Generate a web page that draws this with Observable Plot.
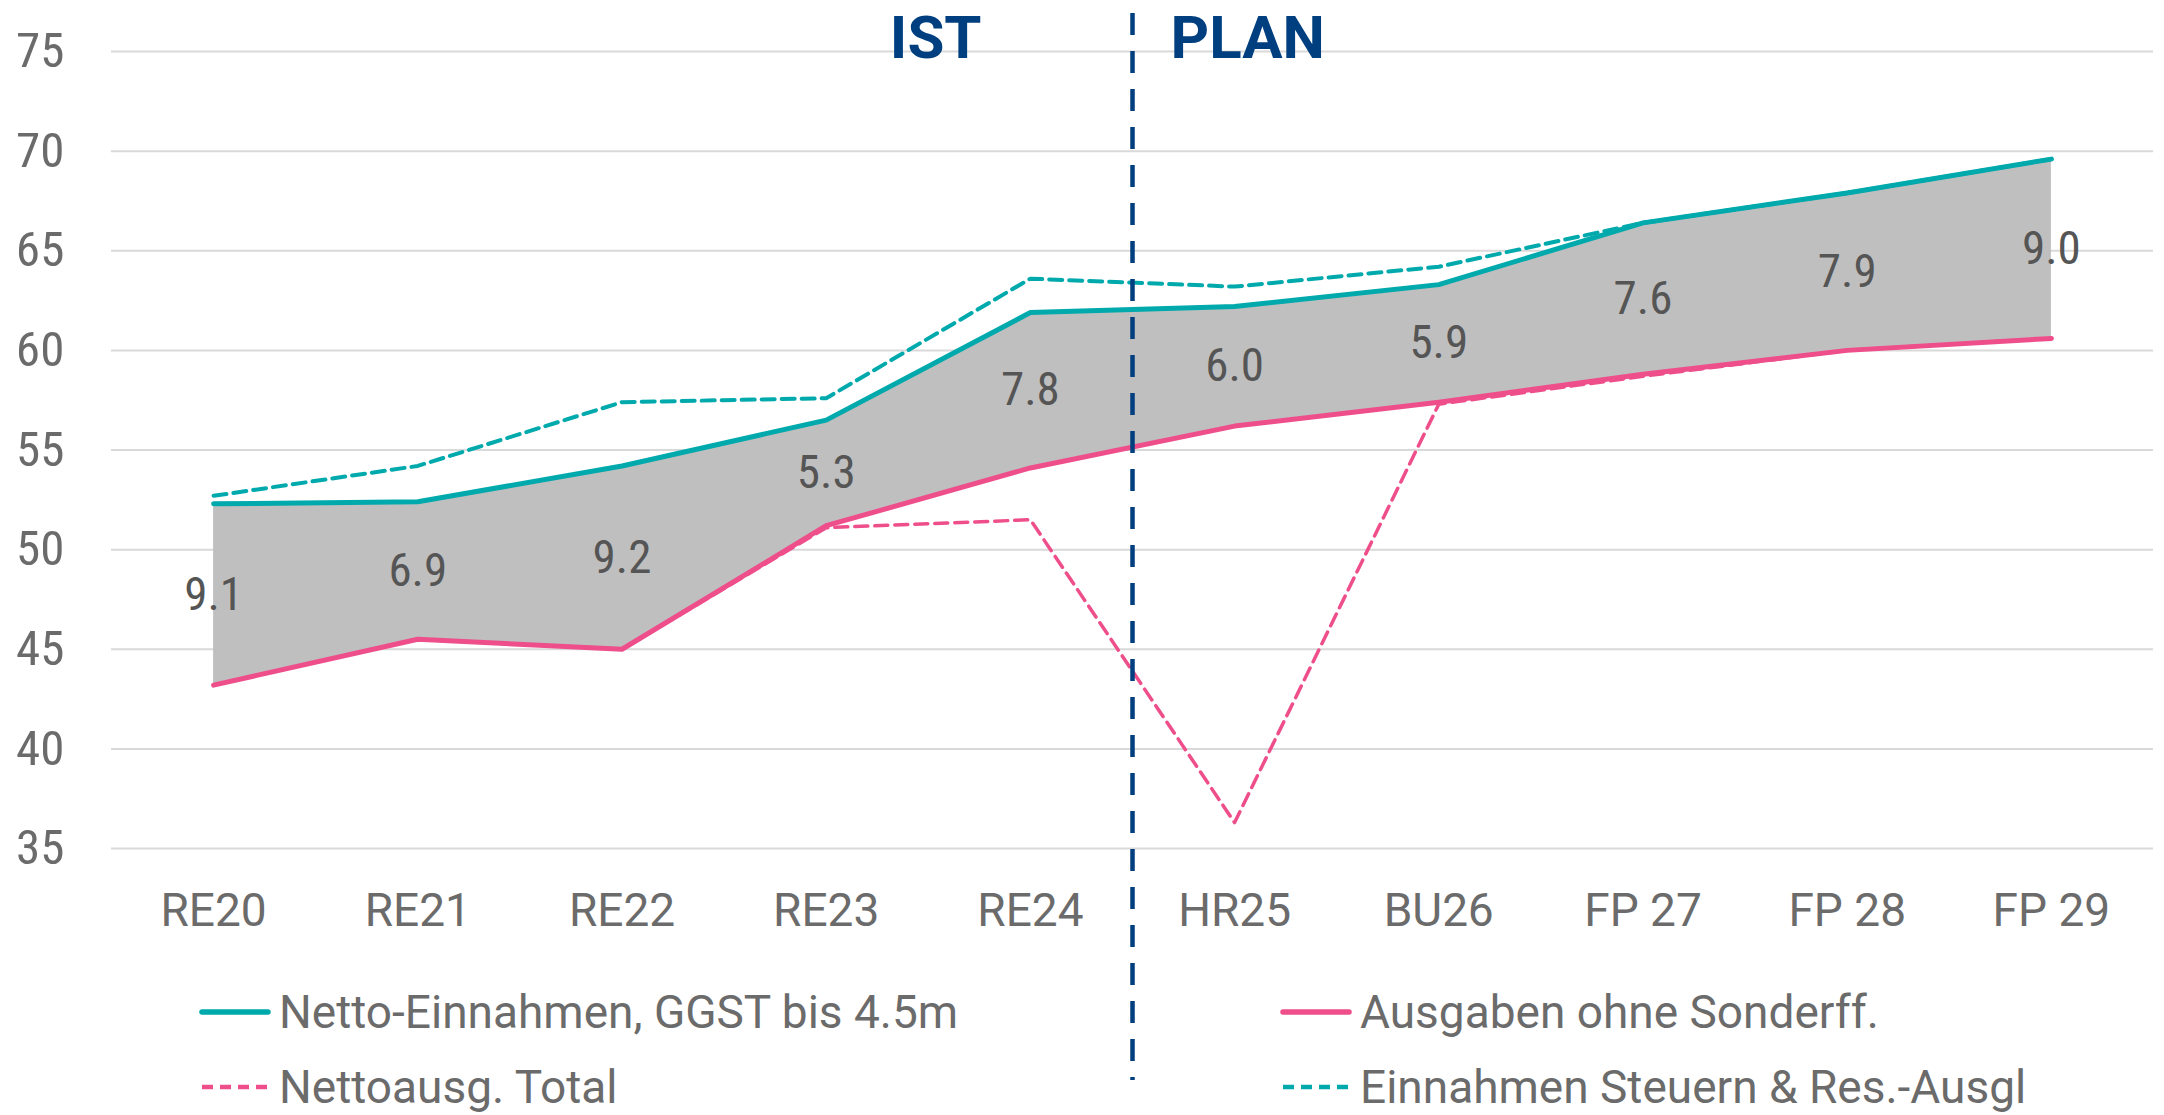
<!DOCTYPE html>
<html><head><meta charset="utf-8">
<script src="https://cdn.jsdelivr.net/npm/d3@7"></script>
<script src="https://cdn.jsdelivr.net/npm/@observablehq/plot@0.6"></script>
<style>
body{margin:0;background:#fff;}
#wrap{position:relative;width:2164px;height:1115px;overflow:hidden;background:#fff;}
#chart{position:absolute;left:0;top:0;}
.leg{position:absolute;display:flex;align-items:center;height:60px;font-family:Roboto,sans-serif;font-size:46px;color:#6b6b6b;white-space:nowrap;line-height:60px;}
.leg svg{flex:none;margin-right:8px;}
</style></head>
<body><div id="wrap"><div id="chart"></div></div>
<script>
const categories = ["RE20","RE21","RE22","RE23","RE24","HR25","BU26","FP 27","FP 28","FP 29"];
const nettoEinnahmen = [52.3,52.4,54.2,56.5,61.9,62.2,63.3,66.4,67.9,69.6];
const ausgabenOhneSonderff = [43.2,45.5,45.0,51.2,54.1,56.2,57.4,58.8,60.0,60.6];
const nettoausgTotal = [43.2,45.5,45.0,51.1,51.5,36.3,57.3,58.7,60.0,60.6];
const einnahmenSteuern = [52.7,54.2,57.4,57.6,63.6,63.2,64.2,66.4,67.9,69.6];
const gapLabels = [9.1,6.9,9.2,5.3,7.8,6.0,5.9,7.6,7.9,9.0];
const yTicks = [35,40,45,50,55,60,65,70,75];
const phaseLabels = ["IST","PLAN"];
const phaseBoundary = [4.5];
const seriesNames = ["Netto-Einnahmen, GGST bis 4.5m","Ausgaben ohne Sonderff.","Nettoausg. Total","Einnahmen Steuern & Res.-Ausgl"];

const teal = "#00A9AC", pink = "#EE4F8B", blue = "#003F7F";
const numFont = "'Liberation Sans Narrow', 'Roboto Condensed', Roboto, sans-serif";

const rows = categories.map((c, i) => ({
  i, cat: c,
  netto: nettoEinnahmen[i], aus: ausgabenOhneSonderff[i],
  total: nettoausgTotal[i], steuern: einnahmenSteuern[i], gap: gapLabels[i]
}));
const phases = [
  {x: phaseBoundary[0], label: phaseLabels[0], side: "end"},
  {x: phaseBoundary[0], label: phaseLabels[1], side: "start"}
];

const plot = Plot.plot({
  width: 2164, height: 960,
  marginLeft: 111, marginRight: 11, marginTop: 51, marginBottom: 112,
  style: {overflow: "visible", color: "#6b6b6b", background: "transparent"},
  x: {type: "linear", domain: [-0.5, 9.5]},
  y: {domain: [35, 75]},
  marks: [
    Plot.gridY(yTicks, {stroke: "#d9d9d9", strokeOpacity: 1, strokeWidth: 2}),
    Plot.areaY(rows, {x: "i", y1: "aus", y2: "netto", fill: "#bfbfbf", fillOpacity: 1}),
    Plot.text(rows, {x: "i", y: d => (d.aus + d.netto) / 2, text: d => d.gap.toFixed(1), fontSize: 47, fontFamily: numFont, fill: "#555555"}),
    Plot.line(rows, {x: "i", y: "steuern", stroke: teal, strokeWidth: 4, strokeDasharray: "13,7"}),
    Plot.line(rows, {x: "i", y: "total", stroke: pink, strokeWidth: 3.5, strokeDasharray: "13,7"}),
    Plot.line(rows, {x: "i", y: "netto", stroke: teal, strokeWidth: 5, strokeLinecap: "round"}),
    Plot.line(rows, {x: "i", y: "aus", stroke: pink, strokeWidth: 5, strokeLinecap: "round"}),
    Plot.ruleX(phaseBoundary, {stroke: blue, strokeWidth: 4.5, strokeDasharray: "22,16", insetTop: -38, insetBottom: -232}),
    Plot.text(phases.filter(d => d.side === "end"), {x: "x", text: "label", frameAnchor: "top", lineAnchor: "bottom", dy: 6, dx: -151, textAnchor: "end", fontSize: 60, fontWeight: 700, fontFamily: "Roboto, sans-serif", fill: blue}),
    Plot.text(phases.filter(d => d.side === "start"), {x: "x", text: "label", frameAnchor: "top", lineAnchor: "bottom", dy: 6, dx: 38, textAnchor: "start", fontSize: 60, fontWeight: 700, fontFamily: "Roboto, sans-serif", fill: blue}),
    Plot.axisY(yTicks, {tickSize: 0, tickPadding: 47, fontSize: 49, fontFamily: numFont, label: null}),
    Plot.axisX(d3.range(categories.length), {tickSize: 0, tickPadding: 45, tickFormat: i => categories[i], fontSize: 46, fontFamily: "Roboto, sans-serif", label: null})
  ]
});
document.getElementById("chart").appendChild(plot);

// legend below the plot
const wrap = d3.select("#wrap");
const legendItems = [
  {name: seriesNames[0], color: teal, dash: null, left: 199, cy: 1012},
  {name: seriesNames[1], color: pink, dash: null, left: 1280, cy: 1012},
  {name: seriesNames[2], color: pink, dash: "11,7", left: 199, cy: 1087},
  {name: seriesNames[3], color: teal, dash: "11,7", left: 1280, cy: 1087}
];
legendItems.forEach(it => {
  const div = wrap.append("div").attr("class", "leg")
    .style("left", it.left + "px").style("top", (it.cy - 30) + "px");
  const s = div.append("svg").attr("width", 72).attr("height", 12);
  s.append("line").attr("x1", 3).attr("x2", 69).attr("y1", 6).attr("y2", 6)
    .attr("stroke", it.color).attr("stroke-width", it.dash ? 4.5 : 5.5)
    .attr("stroke-linecap", it.dash ? "butt" : "round")
    .attr("stroke-dasharray", it.dash);
  div.append("span").text(it.name);
});
</script>
</body></html>
